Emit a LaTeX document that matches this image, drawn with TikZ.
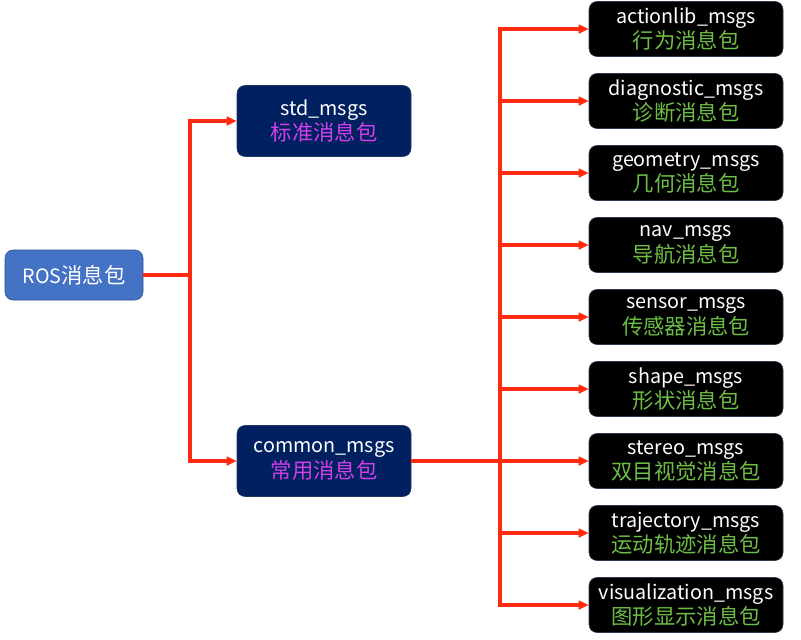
\documentclass[tikz,border=0pt]{standalone}
\usepackage{fontspec}
\setmainfont{Noto Sans CJK SC}
\usetikzlibrary{arrows.meta}

\definecolor{rosblue}{HTML}{4472C4}
\definecolor{rosedge}{HTML}{2F528F}
\definecolor{pkgnavy}{HTML}{002060}
\definecolor{pkgedge}{HTML}{1F3864}
\definecolor{leafedge}{HTML}{2E3A50}
\definecolor{cnmagenta}{HTML}{D23FEA}
\definecolor{cngreen}{HTML}{6DBE45}
\definecolor{linkred}{HTML}{FF2A10}

\newcommand{\msgname}[1]{{\fontsize{14.8}{19}\selectfont #1}}

\begin{document}
\begin{tikzpicture}[x=0.75pt,y=-0.75pt,
		every node/.style={font=\fontsize{16}{19}\selectfont,align=center,inner sep=0pt},
		rootbox/.style={draw=rosedge,fill=rosblue,text=white,rounded corners=6pt,
			minimum width=103.5pt,minimum height=37.5pt},
		pkgbox/.style={draw=pkgedge,fill=pkgnavy,text=white,rounded corners=6pt,
			minimum width=130.5pt,minimum height=53.25pt},
		leafbox/.style={draw=leafedge,fill=black,text=white,rounded corners=6pt,
			minimum width=145.5pt,minimum height=41.25pt},
		link/.style={draw=linkred,line width=2.4pt},
		linkto/.style={link,-{Triangle[length=7.5pt,width=6.5pt]}}]

		\useasboundingbox (0,0) rectangle (801,640);

		\node[rootbox] (ros) at (74,275) {\msgname{ROS}消息包};

		\node[pkgbox] (std) at (324,121) {\msgname{std\_msgs}\\\textcolor{cnmagenta}{标准消息包}};
		\node[pkgbox] (common) at (324,461) {\msgname{common\_msgs}\\\textcolor{cnmagenta}{常用消息包}};

		\node[leafbox] (actionlib) at (686,29) {\msgname{actionlib\_msgs}\\\textcolor{cngreen}{行为消息包}};
		\node[leafbox] (diagnostic) at (686,101) {\msgname{diagnostic\_msgs}\\\textcolor{cngreen}{诊断消息包}};
		\node[leafbox] (geometry) at (686,173) {\msgname{geometry\_msgs}\\\textcolor{cngreen}{几何消息包}};
		\node[leafbox] (nav) at (686,245) {\msgname{nav\_msgs}\\\textcolor{cngreen}{导航消息包}};
		\node[leafbox] (sensor) at (686,317) {\msgname{sensor\_msgs}\\\textcolor{cngreen}{传感器消息包}};
		\node[leafbox] (shape) at (686,389) {\msgname{shape\_msgs}\\\textcolor{cngreen}{形状消息包}};
		\node[leafbox] (stereo) at (686,461) {\msgname{stereo\_msgs}\\\textcolor{cngreen}{双目视觉消息包}};
		\node[leafbox] (trajectory) at (686,533) {\msgname{trajectory\_msgs}\\\textcolor{cngreen}{运动轨迹消息包}};
		\node[leafbox] (visualization) at (686,605) {\msgname{visualization\_msgs}\\\textcolor{cngreen}{图形显示消息包}};

		% branch points
		\coordinate (rossplit) at (190,275);
		\coordinate (commonsplit) at (500,461);

		\draw[link] (ros) -- (rossplit);
		\draw[linkto] (rossplit) |- (std);
		\draw[linkto] (rossplit) |- (common);

		\draw[link] (common) -- (commonsplit);
		\draw[linkto] (commonsplit) |- (actionlib);
		\draw[linkto] (commonsplit) |- (diagnostic);
		\draw[linkto] (commonsplit) |- (geometry);
		\draw[linkto] (commonsplit) |- (nav);
		\draw[linkto] (commonsplit) |- (sensor);
		\draw[linkto] (commonsplit) |- (shape);
		\draw[linkto] (commonsplit) |- (stereo);
		\draw[linkto] (commonsplit) |- (trajectory);
		\draw[linkto] (commonsplit) |- (visualization);

	\end{tikzpicture}
\end{document}
